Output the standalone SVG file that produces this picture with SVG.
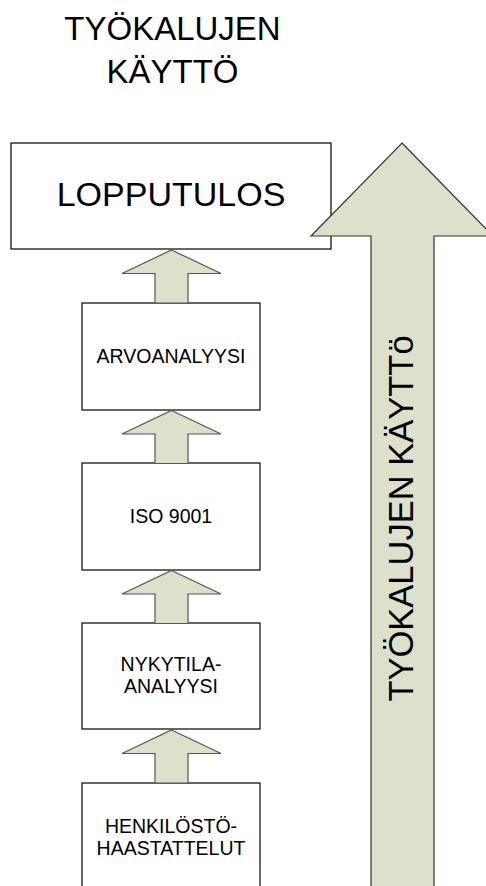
<svg xmlns="http://www.w3.org/2000/svg" width="486" height="886" viewBox="0 0 486 886">
<style>
text{font-family:"Liberation Sans",Arial,sans-serif;fill:#000;text-anchor:middle}
.box{fill:#fff;stroke:#000;stroke-width:1.2}
.arr{fill:#dde0cb;stroke:#555;stroke-width:1.2;stroke-linejoin:miter}
.big{fill:#dde0cb;stroke:#333;stroke-width:1.2}
.t1{font-size:33px}
.t2{font-size:34px}
.t3{font-size:19.5px}
</style>
<defs>
<path id="smallArrow" d="M0,0 L49.5,23.5 L16.5,23.5 L16.5,53 L-16.5,53 L-16.5,23.5 L-49.5,23.5 Z"/>
</defs>
<g id="title">
<text class="t1" x="172.5" y="40">TYÖKALUJEN</text>
<text class="t1" x="172.5" y="83">KÄYTTÖ</text>
</g>
<g id="lopputulos">
<rect class="box" x="11" y="143" width="320" height="106"/>
<text class="t2" x="171" y="206">LOPPUTULOS</text>
</g>
<g id="arvoanalyysi">
<rect class="box" x="82" y="303" width="178" height="107"/>
<text class="t3" x="171" y="363">ARVOANALYYSI</text>
</g>
<g id="iso9001">
<rect class="box" x="82" y="463" width="178" height="107"/>
<text class="t3" x="171" y="523">ISO 9001</text>
</g>
<g id="nykytila">
<rect class="box" x="82" y="623" width="178" height="106"/>
<text class="t3" x="171" y="671">NYKYTILA-</text>
<text class="t3" x="171" y="693">ANALYYSI</text>
</g>
<g id="henkilosto">
<rect class="box" x="82" y="783" width="178" height="110"/>
<text class="t3" x="171" y="833">HENKILÖSTÖ-</text>
<text class="t3" x="171" y="855">HAASTATTELUT</text>
</g>
<g id="connectors">
<use href="#smallArrow" class="arr" x="171.5" y="250"/>
<use href="#smallArrow" class="arr" x="171.5" y="410.5"/>
<use href="#smallArrow" class="arr" x="171.5" y="570.5"/>
<use href="#smallArrow" class="arr" x="171.5" y="730"/>
</g>
<g id="bigArrow">
<path class="big" d="M402,143 L493,236 L434,236 L434,890 L371,890 L371,236 L311,236 Z"/>
<text class="t2" transform="translate(413,518.5) rotate(-90)" x="0" y="0" style="font-size:34.5px">TYÖKALUJEN KÄYTTö</text>
</g>
</svg>
